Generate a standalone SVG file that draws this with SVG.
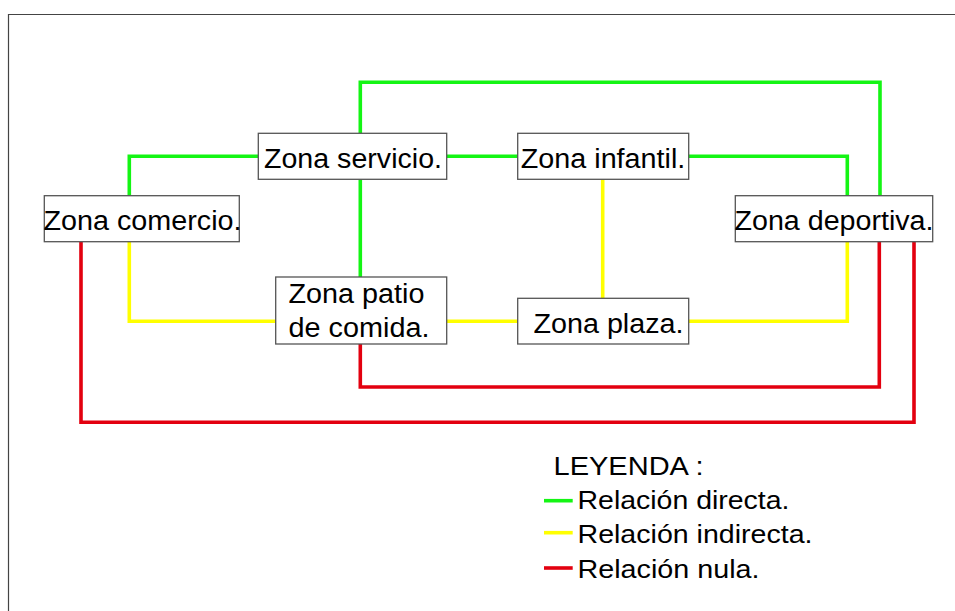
<svg xmlns="http://www.w3.org/2000/svg" width="955" height="611" viewBox="0 0 955 611">
<style>
.box{fill:#fff;stroke:#555;stroke-width:1.3}
.t{font-family:"Liberation Sans",Arial,sans-serif;font-size:27px;fill:#000}
.lg{font-family:"Liberation Sans",Arial,sans-serif;font-size:26px;fill:#000}
.g{fill:none;stroke:#14f514;stroke-width:3.6}
.y{fill:none;stroke:#ffff00;stroke-width:3.6}
.r{fill:none;stroke:#e3000f;stroke-width:3.6}
</style>
<rect x="0" y="0" width="955" height="611" fill="#fff"/>
<path d="M8.5,620 V14.5 H960" fill="none" stroke="#444" stroke-width="1.2"/>
<g id="connectors">
<polyline class="g" points="360.3,133 360.3,82.3 880,82.3 880,196"/>
<polyline class="g" points="258,156.3 129.3,156.3 129.3,196"/>
<polyline class="g" points="446.7,156.3 518,156.3"/>
<polyline class="g" points="360.3,179.3 360.3,277"/>
<polyline class="g" points="688.7,156.3 847.3,156.3 847.3,196"/>
<polyline class="y" points="129.3,241.7 129.3,321.3 276,321.3"/>
<polyline class="y" points="446.7,321.3 518,321.3"/>
<polyline class="y" points="602.7,179.3 602.7,298.3"/>
<polyline class="y" points="688.7,321.3 847.3,321.3 847.3,241.7"/>
<polyline class="r" points="81,241.7 81,422.3 914,422.3 914,241.7"/>
<polyline class="r" points="360.3,344 360.3,387 879.3,387 879.3,241.7"/>
</g>
<g id="servicio">
<rect class="box" x="258.3" y="133.3" width="188.4" height="46"/>
<text class="t" x="264" y="167.7" textLength="178" lengthAdjust="spacingAndGlyphs">Zona servicio.</text>
</g>
<g id="comercio">
<rect class="box" x="44.3" y="195.7" width="195" height="46"/>
<text class="t" x="43.5" y="230" textLength="198" lengthAdjust="spacingAndGlyphs">Zona comercio.</text>
</g>
<g id="patio">
<rect class="box" x="275.7" y="277" width="171" height="67"/>
<text class="t" x="288.5" y="302.7" textLength="136" lengthAdjust="spacingAndGlyphs">Zona patio</text>
<text class="t" x="288.5" y="336.7" textLength="141" lengthAdjust="spacingAndGlyphs">de comida.</text>
</g>
<g id="infantil">
<rect class="box" x="517.7" y="133.3" width="171" height="46"/>
<text class="t" x="520.8" y="167.7" textLength="164.5" lengthAdjust="spacingAndGlyphs">Zona infantil.</text>
</g>
<g id="deportiva">
<rect class="box" x="735.3" y="195.7" width="197.4" height="46"/>
<text class="t" x="734.5" y="230" textLength="199" lengthAdjust="spacingAndGlyphs">Zona deportiva.</text>
</g>
<g id="plaza">
<rect class="box" x="517.7" y="298.3" width="171" height="45.7"/>
<text class="t" x="533.5" y="332.7" textLength="150" lengthAdjust="spacingAndGlyphs">Zona plaza.</text>
</g>
<g id="legend">
<text class="lg" x="553.5" y="475" textLength="150" lengthAdjust="spacingAndGlyphs">LEYENDA :</text>
<line class="g" x1="544" y1="500.7" x2="572.7" y2="500.7"/>
<text class="lg" x="577.5" y="509.3" textLength="212" lengthAdjust="spacingAndGlyphs">Relación directa.</text>
<line class="y" x1="544" y1="532.7" x2="572.7" y2="532.7"/>
<text class="lg" x="577.5" y="543.3" textLength="235" lengthAdjust="spacingAndGlyphs">Relación indirecta.</text>
<line class="r" x1="544" y1="568" x2="572.7" y2="568"/>
<text class="lg" x="577.5" y="577.7" textLength="182" lengthAdjust="spacingAndGlyphs">Relación nula.</text>
</g>
</svg>
